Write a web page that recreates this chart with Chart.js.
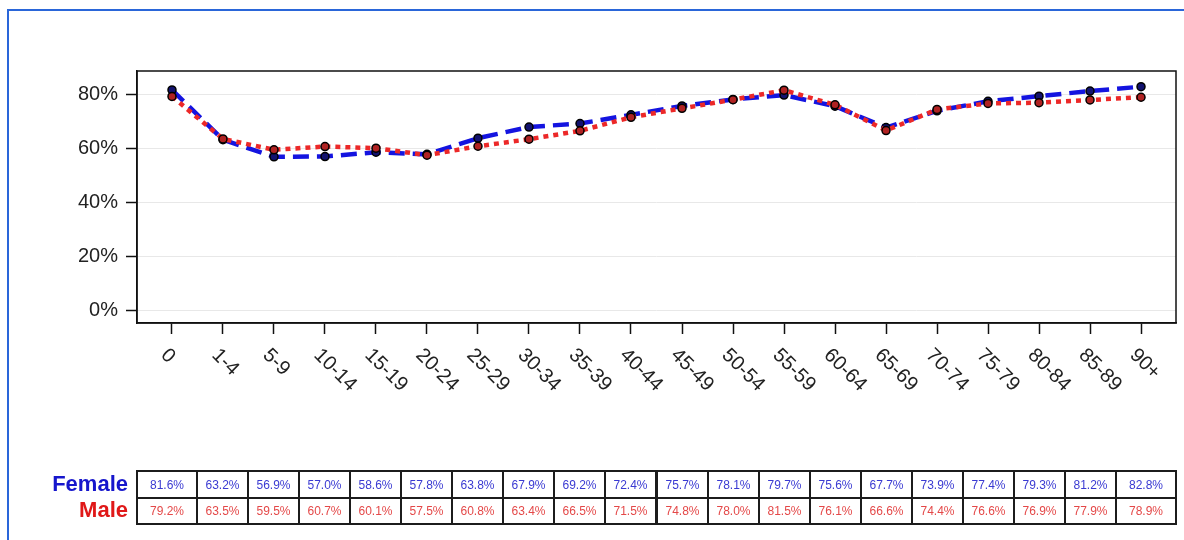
<!DOCTYPE html>
<html>
<head>
<meta charset="utf-8">
<script src="https://cdn.jsdelivr.net/npm/chart.js@4.4.1/dist/chart.umd.min.js"></script>
<style>
  html, body { margin: 0; padding: 0; background: #fff; overflow: hidden; }
  #wrap { position: relative; width: 1184px; height: 540px; overflow: hidden; }
  #frame { position: absolute; left: 7px; top: 9px; width: 1300px; height: 700px; border: 2px solid #2a66d9; }
  canvas { position: absolute; left: 0; top: 0; }
  .cell { position: absolute; box-sizing: border-box; border: 2px solid #1c1c1c; display: flex;
          align-items: center; justify-content: center; font: 12px "Liberation Sans", Arial, sans-serif; }
  .rowlab { position: absolute; left: 0; width: 128px; text-align: right;
            font: bold 22px "Liberation Sans", Arial, sans-serif; }
</style>
</head>
<body>
<div id="wrap">
  <div id="frame"></div>
  <canvas id="myChart" width="1184" height="540"></canvas>
  <div id="table"></div>
</div>
<script>
// age groups along the x axis
let ageGroups = ['0', '1-4', '5-9', '10-14', '15-19', '20-24', '25-29', '30-34', '35-39', '40-44',
                 '45-49', '50-54', '55-59', '60-64', '65-69', '70-74', '75-79', '80-84', '85-89', '90+'];
// percentages per group
let femaleRates = [81.6, 63.2, 56.9, 57.0, 58.6, 57.8, 63.8, 67.9, 69.2, 72.4,
                   75.7, 78.1, 79.7, 75.6, 67.7, 73.9, 77.4, 79.3, 81.2, 82.8];
let maleRates = [79.2, 63.5, 59.5, 60.7, 60.1, 57.5, 60.8, 63.4, 66.5, 71.5,
                 74.8, 78.0, 81.5, 76.1, 66.6, 74.4, 76.6, 76.9, 77.9, 78.9];
let yTicks = [0, 20, 40, 60, 80];

let FONT = '"Liberation Sans", Arial, sans-serif';

let framePlugin = {
    id: 'frame',
    beforeDatasetsDraw(chart) {
        let a = chart.chartArea, ctx = chart.ctx;
        ctx.save();
        ctx.strokeStyle = '#111';
        ctx.lineWidth = 1.5;
        ctx.strokeRect(a.left, a.top, a.right - a.left, a.bottom - a.top);
        ctx.restore();
    }
};

// x labels slant down to the right, so draw them here
let slantLabels = {
    id: 'slantLabels',
    afterDraw(chart) {
        let ctx = chart.ctx, xs = chart.scales.x, a = chart.chartArea;
        ctx.save();
        ctx.font = '20px ' + FONT;
        ctx.fillStyle = '#222';
        ctx.textAlign = 'left';
        ctx.textBaseline = 'middle';
        ageGroups.forEach((g, i) => {
            let px = xs.getPixelForValue(i);
            ctx.save();
            ctx.translate(px - 8, a.bottom + 29);
            ctx.rotate(Math.PI / 4);
            ctx.fillText(g, 0, 0);
            ctx.restore();
        });
        ctx.restore();
    }
};

let myChart = document.getElementById('myChart').getContext('2d');

let ratesChart = new Chart(myChart, {
    type: 'line',
    data: {
        datasets: [{
            label: 'Female',
            data: femaleRates.map((v, i) => ({x: i, y: v})),
            borderColor: '#1414e0',
            borderWidth: 4.5,
            borderDash: [16, 8],
            pointRadius: 4,
            pointBorderWidth: 1.5,
            pointBorderColor: '#000',
            pointBackgroundColor: '#12126e',
            order: 1
        }, {
            label: 'Male',
            data: maleRates.map((v, i) => ({x: i, y: v})),
            borderColor: '#ec2828',
            borderWidth: 4.5,
            borderDash: [5, 5],
            pointRadius: 4,
            pointBorderWidth: 1.5,
            pointBorderColor: '#000',
            pointBackgroundColor: '#b02222',
            order: 0
        }]
    },
    options: {
        responsive: false,
        animation: false,
        devicePixelRatio: 1,
        layout: { padding: { top: 71, right: 8, left: 0, bottom: 206 } },
        plugins: { legend: { display: false }, tooltip: { enabled: false } },
        scales: {
            x: {
                type: 'linear',
                min: -0.686,
                max: ageGroups.length - 1 + 0.686,
                afterBuildTicks: s => { s.ticks = ageGroups.map((g, i) => ({value: i})); },
                afterFit: s => { s.height = 11; },
                ticks: { display: false },
                grid: { drawOnChartArea: false, drawTicks: true, tickLength: 11, tickColor: '#111', tickWidth: 1.5 },
                border: { display: true, color: '#111', width: 1.5 }
            },
            y: {
                min: -4.5,
                max: 88.6,
                afterBuildTicks: s => { s.ticks = yTicks.map(v => ({value: v})); },
                afterFit: s => { s.width = 137; },
                ticks: {
                    callback: v => v + '%',
                    color: '#222',
                    padding: 8,
                    font: { family: FONT, size: 20 }
                },
                grid: { color: '#e8e8e8', lineWidth: 1, tickLength: 11, tickColor: '#111', tickWidth: 1.5 },
                border: { display: true, color: '#111', width: 1.5 }
            }
        }
    },
    plugins: [framePlugin, slantLabels]
});

// data table under the chart, one column per age group
let table = document.getElementById('table');
let xs = ratesChart.scales.x, area = ratesChart.chartArea;
let rows = [
    {name: 'Female', values: femaleRates, head: '#1616cc', text: '#3a3ad2', top: 470, h: 29},
    {name: 'Male', values: maleRates, head: '#e01818', text: '#e44848', top: 497, h: 28}
];
rows.forEach(r => {
    let lab = document.createElement('div');
    lab.className = 'rowlab';
    lab.style.top = (r.top - 1) + 'px';
    lab.style.lineHeight = r.h + 'px';
    lab.style.color = r.head;
    lab.textContent = r.name;
    table.appendChild(lab);
    r.values.forEach((v, i) => {
        let x0 = i === 0 ? area.left - 1 : xs.getPixelForValue(i - 0.5) - 1;
        let x1 = i === r.values.length - 1 ? area.right + 1 : xs.getPixelForValue(i + 0.5) + 1;
        let c = document.createElement('div');
        c.className = 'cell';
        c.style.left = Math.round(x0) + 'px';
        c.style.width = Math.round(x1 - x0) + 'px';
        c.style.top = r.top + 'px';
        c.style.height = r.h + 'px';
        c.style.color = r.text;
        c.textContent = v.toFixed(1) + '%';
        table.appendChild(c);
    });
});
</script>
</body>
</html>
